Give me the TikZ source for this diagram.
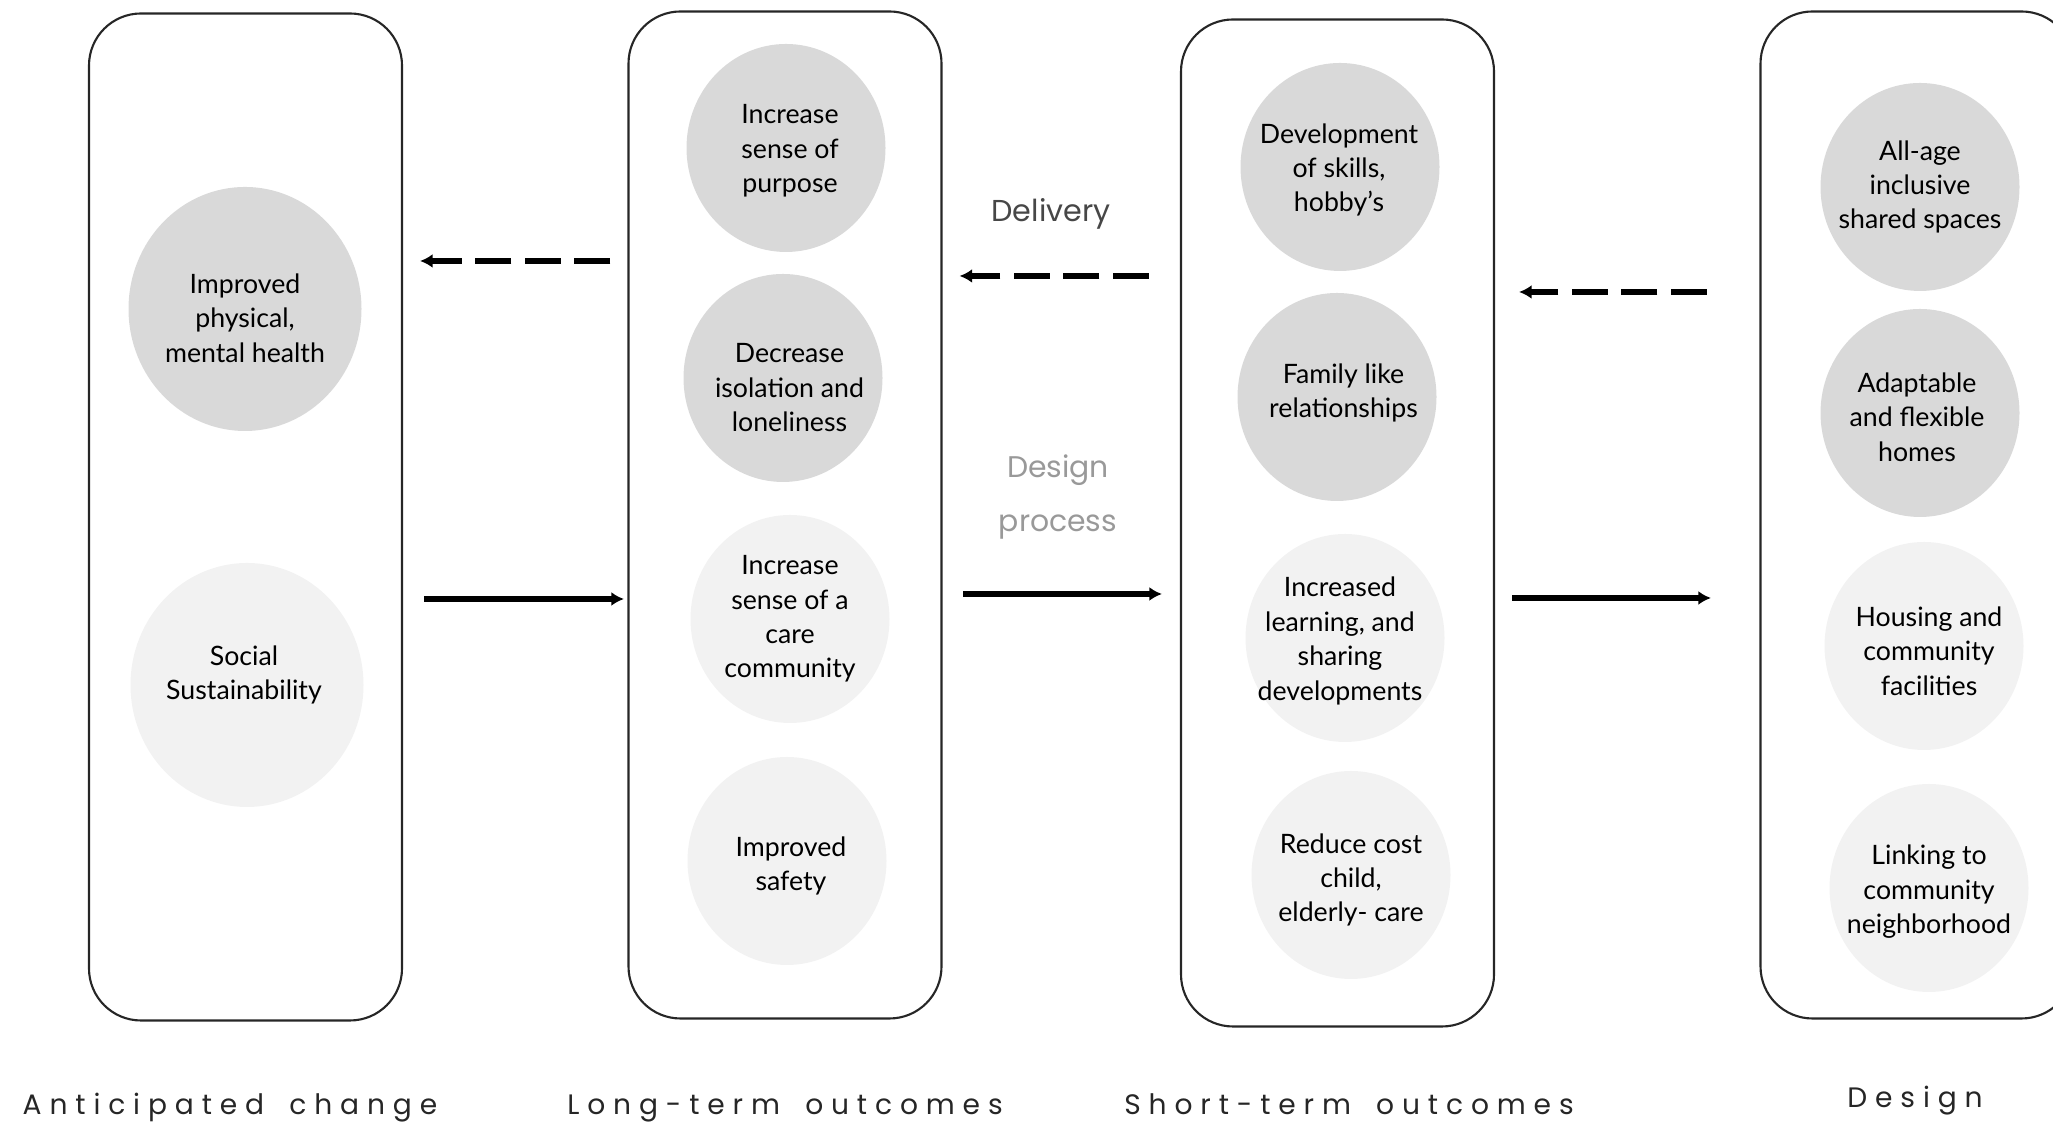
\documentclass[tikz,border=0pt]{standalone}
\usepackage{fontspec}
\usepackage{tikz}
\usetikzlibrary{shapes.geometric, arrows.meta, positioning, calc}
\newfontfamily\latofont{Lato}
\newfontfamily\popfont{Poppins}
\newfontfamily\popspaced[LetterSpace=28]{Poppins}
\definecolor{dkgrey}{HTML}{D9D9D9}
\definecolor{ltgrey}{HTML}{F2F2F2}
\newcommand{\wgap}{\hspace{2.8pt} }

\begin{document}
\begin{tikzpicture}[>={Latex[length=3.6pt,width=4pt]}]
        \tikzstyle{col} = [rectangle, rounded corners=0.52cm, draw=black!85, line width=0.6pt, minimum width=3.13cm, minimum height=10.07cm, inner sep=0pt]
        \tikzstyle{blob} = [ellipse, minimum width=1.99cm, minimum height=2.08cm, inner sep=0pt]
        \tikzstyle{big} = [minimum width=2.33cm, minimum height=2.44cm]
        \tikzstyle{txt} = [align=center, font=\latofont\fontsize{7.6}{9.8}\selectfont, text=black]
        \tikzstyle{collbl} = [anchor=base, font=\popspaced\fontsize{8}{10}\selectfont, text=black!85]
        \tikzstyle{dasharr} = [->, line width=1.5pt, dash pattern=on 0.36cm off 0.135cm]
        \tikzstyle{solarr} = [->, line width=1.5pt]

        \useasboundingbox (0,0) rectangle (20.53,11.24);
        \clip (0,0) rectangle (20.53,11.24);

        % Columns
        \node (antic) [col] at (2.455, 6.07) {};
        \node (longt) [col] at (7.85, 6.09) {};
        \node (shortt) [col] at (13.375, 6.01) {};
        \node (dsgn) [col] at (19.17, 6.09) {};

        % Anticipated change
        \node (a1) [blob, big, fill=dkgrey, label={[txt, yshift=-0.09cm]center:Improved\\physical,\\mental health}] at (2.45, 8.15) {};
        \node (a2) [blob, big, fill=ltgrey, label={[txt, xshift=-0.03cm, yshift=0.10cm]center:Social\\Sustainability}] at (2.47, 4.39) {};

        % Long-term outcomes
        \foreach \i/\x/\y/\dx/\dy/\c/\t in {1/7.86/9.76/0.04/-0.03/dkgrey/{Increase\\sense of\\purpose}, 2/7.83/7.46/0.065/-0.10/dkgrey/{Decrease\\isolation and\\loneliness}, 3/7.90/5.05/0/0/ltgrey/{Increase\\sense of a\\care\\community}, 4/7.87/2.63/0.04/-0.05/ltgrey/{Improved\\safety}} { \node (l\i) [blob, fill=\c, label={[txt, xshift=\dx cm, yshift=\dy cm]center:\t}] at (\x, \y) {}; }

        % Short-term outcomes
        \foreach \i/\x/\y/\dx/\dy/\c/\t in {1/13.40/9.57/-0.01/-0.03/dkgrey/{Development\\of skills,\\hobby’s}, 2/13.37/7.27/0.065/0.04/dkgrey/{Family like\\relationships}, 3/13.45/4.86/-0.05/-0.03/ltgrey/{Increased\\learning, and\\sharing\\developments}, 4/13.51/2.49/0/-0.05/ltgrey/{Reduce cost\\child,\\elderly- care}} { \node (s\i) [blob, fill=\c, label={[txt, xshift=\dx cm, yshift=\dy cm]center:\t}] at (\x, \y) {}; }

        % Design
        \foreach \i/\x/\y/\dx/\dy/\c/\t in {1/19.20/9.37/0/0/dkgrey/{All-age\\inclusive\\shared spaces}, 2/19.20/7.11/-0.03/-0.04/dkgrey/{Adaptable\\and flexible\\homes}, 3/19.24/4.78/0.05/-0.05/ltgrey/{Housing and\\community\\facilities}, 4/19.29/2.36/0/-0.04/ltgrey/{Linking to\\community\\neighborhood}} { \node (d\i) [blob, fill=\c, label={[txt, xshift=\dx cm, yshift=\dy cm]center:\t}] at (\x, \y) {}; }

        % Delivery arrows (dashed, back to front)
        \draw [dasharr, shorten <=0.17cm, shorten >=0.17cm] (longt.west |- 0,8.63) -- (antic.east |- 0,8.63);
        \draw [dasharr, shorten <=0.31cm, shorten >=0.17cm] (shortt.west |- 0,8.48) -- (longt.east |- 0,8.48);
        \draw [dasharr, shorten <=0.525cm, shorten >=0.24cm] (dsgn.west |- 0,8.32) -- (shortt.east |- 0,8.32);

        % Design process arrows
        \draw [solarr, shorten <=0.21cm, shorten >=0.035cm] (antic.east |- 0,5.25) -- (longt.west |- 0,5.25);
        \draw [solarr, shorten <=0.205cm, shorten >=0.18cm] (longt.east |- 0,5.30) -- (shortt.west |- 0,5.30);
        \draw [solarr, shorten <=0.17cm, shorten >=0.485cm] (shortt.east |- 0,5.26) -- (dsgn.west |- 0,5.26);

        \node (deliv) [anchor=base, font=\popfont\fontsize{8.6}{11}\selectfont, text=black!72] at (10.51, 9.02) {Delivery};
        \node (dproc) [align=center, font=\popfont\fontsize{8.5}{15.6}\selectfont, text=black!40] at (10.58, 6.27) {Design\\process};

        % Column titles
        \node (anticlab) [collbl] at (2.30, 0.09) {Anticipated\wgap change};
        \node (longlab) [collbl] at (7.85, 0.09) {Long-term\wgap outcomes};
        \node (shortlab) [collbl] at (13.49, 0.09) {Short-term\wgap outcomes};
        \node (dsgnlab) [collbl] at (19.15, 0.16) {Design};
    \end{tikzpicture}
\end{document}
